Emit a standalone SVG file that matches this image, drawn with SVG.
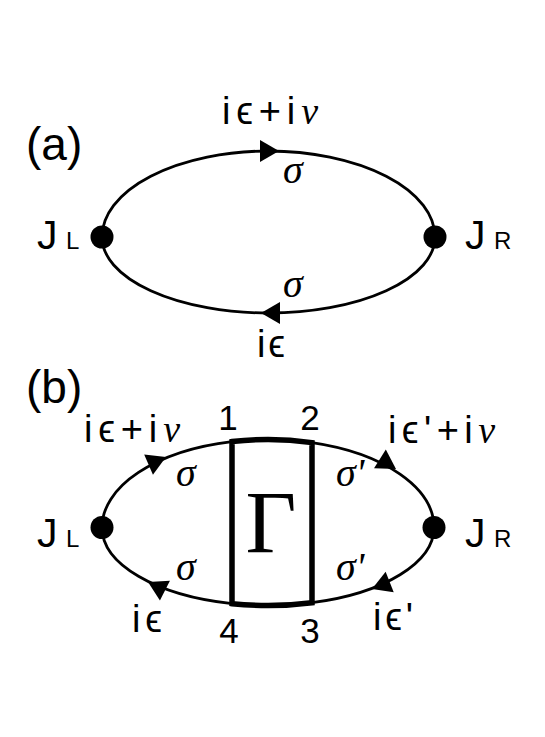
<svg xmlns="http://www.w3.org/2000/svg" width="545" height="737" viewBox="0 0 545 737">
<style>
.line{fill:none;stroke:#000;stroke-width:2.8}
.box{fill:none;stroke:#000;stroke-width:5.5;stroke-linejoin:miter}
.dot{fill:#000}
.sans{font-family:"Liberation Sans Narrow","Liberation Sans","DejaVu Sans",sans-serif;fill:#000}
.lab{font-family:"Liberation Sans Narrow","Liberation Sans","DejaVu Sans",sans-serif;font-size:38px;fill:#000}
.sig{font-family:"Liberation Serif","DejaVu Serif",serif;font-style:italic;font-size:40px;fill:#000}
.nu{font-family:"Liberation Serif","DejaVu Serif",serif;font-style:italic}
.J{font-size:41px}
.sub{font-size:24px}
.num{font-family:"Liberation Sans Narrow","Liberation Sans","DejaVu Sans",sans-serif;font-size:35px;fill:#000}
</style>
<defs>
<path id="arr" d="M0,0 L-19,-11 L-19,11 Z" fill="#000"/>
</defs>

<!-- panel labels -->
<text class="sans" x="26" y="160" font-size="46">(a)</text>
<text class="sans" x="26" y="403" font-size="46">(b)</text>

<!-- connectors -->
<g id="connectors">
  <path class="line" d="M102,237 A166.5,86 0 0 1 435,237"/>
  <path class="line" d="M435,237 A166.5,76 0 0 1 102,237"/>
  <use href="#arr" transform="translate(279,151)"/>
  <use href="#arr" transform="translate(261,313) rotate(180)"/>

  <path class="line" d="M102,527.5 A166,88 0 0 1 232,441.59"/>
  <path class="line" d="M312,442.65 A166,88 0 0 1 434,527.5"/>
  <path class="line" d="M434,527.5 A166,78 0 0 1 312,602.71"/>
  <path class="line" d="M232,603.64 A166,78 0 0 1 102,527.5"/>
  <use href="#arr" transform="translate(166,457) rotate(-23.4)"/>
  <use href="#arr" transform="translate(396,469) rotate(32.3)"/>
  <use href="#arr" transform="translate(372,589) rotate(158.5)"/>
  <use href="#arr" transform="translate(148,582) rotate(-153)"/>
</g>

<!-- diagram (a) nodes -->
<g id="JL_a">
  <circle class="dot" cx="102" cy="237" r="11.5"/>
  <text class="sans" y="249"><tspan class="J" x="37">J</tspan><tspan class="sub" x="66">L</tspan></text>
</g>
<g id="JR_a">
  <circle class="dot" cx="435" cy="237" r="11.5"/>
  <text class="sans" y="249"><tspan class="J" x="465">J</tspan><tspan class="sub" x="494">R</tspan></text>
</g>

<!-- diagram (a) labels -->
<g id="labels_a">
  <text class="lab" x="222" y="124" textLength="96" lengthAdjust="spacing">iϵ+i<tspan class="nu">ν</tspan></text>
  <text class="sig" x="283" y="183">σ</text>
  <text class="sig" x="283" y="297">σ</text>
  <text class="lab" x="257" y="357" textLength="28" lengthAdjust="spacing">iϵ</text>
</g>

<!-- diagram (b) nodes -->
<g id="JL_b">
  <circle class="dot" cx="102" cy="527.5" r="11.5"/>
  <text class="sans" y="547"><tspan class="J" x="37">J</tspan><tspan class="sub" x="66">L</tspan></text>
</g>
<g id="JR_b">
  <circle class="dot" cx="434" cy="527.5" r="11.5"/>
  <text class="sans" y="547"><tspan class="J" x="465">J</tspan><tspan class="sub" x="494">R</tspan></text>
</g>
<g id="Gamma">
  <path class="box" d="M232,441.59 A166,88 0 0 1 312,442.65 L312,602.71 A166,78 0 0 1 232,603.64 Z"/>
  <text x="271" y="552" text-anchor="middle" font-family="Liberation Serif, DejaVu Serif, serif" font-size="88" fill="#000">Γ</text>
  <text class="num" x="228" y="430" text-anchor="middle">1</text>
  <text class="num" x="310" y="430" text-anchor="middle">2</text>
  <text class="num" x="310" y="643" text-anchor="middle">3</text>
  <text class="num" x="229" y="643" text-anchor="middle">4</text>
</g>

<!-- diagram (b) labels -->
<g id="labels_b">
  <text class="lab" x="84" y="442" textLength="96" lengthAdjust="spacing">iϵ+i<tspan class="nu">ν</tspan></text>
  <text class="lab" x="388" y="443" textLength="107" lengthAdjust="spacing">iϵ'+i<tspan class="nu">ν</tspan></text>
  <text class="sig" x="176" y="486">σ</text>
  <text class="sig" x="176" y="580">σ</text>
  <text class="sig" x="336" y="486">σ'</text>
  <text class="sig" x="336" y="580">σ'</text>
  <text class="lab" x="132" y="632" textLength="30" lengthAdjust="spacing">iϵ</text>
  <text class="lab" x="373" y="630" textLength="40" lengthAdjust="spacing">iϵ'</text>
</g>
</svg>
